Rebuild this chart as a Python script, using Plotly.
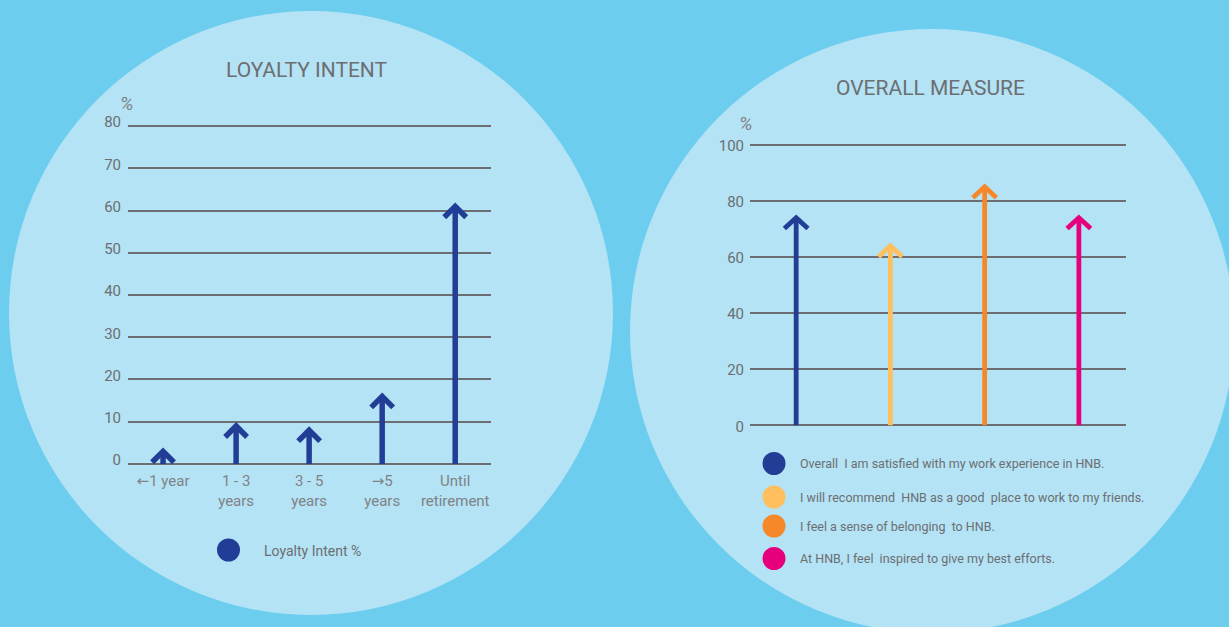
import plotly.graph_objects as go

W, H = 1229, 627

# ---------------- data ----------------
loyalty_title = "LOYALTY INTENT"
loyalty_categories = ["<span style='font-family:DejaVu Sans'>←</span>1 year", "1 - 3<br>years",
                      "3 - 5<br>years", "<span style='font-family:DejaVu Sans'>→</span>5<br>years",
                      "Until<br>retirement"]
loyalty_values = [3, 9, 8, 16, 61]
loyalty_ticks = [0, 10, 20, 30, 40, 50, 60, 70, 80]
loyalty_legend = "Loyalty Intent %"

measure_title = "OVERALL MEASURE"
measure_labels = [
    "Overall  I am satisfied with my work experience in HNB.",
    "I will recommend  HNB as a good  place to work to my friends.",
    "I feel a sense of belonging  to HNB.",
    "At HNB, I feel  inspired to give my best efforts.",
]
measure_values = [74, 64, 85, 74]
measure_ticks = [0, 20, 40, 60, 80, 100]

# ---------------- style ----------------
NAVY = "#223d96"
measure_colors = [NAVY, "#ffbf5f", "#f7882a", "#e6007e"]
BG = "#6dcdee"
CIRCLE = "#b3e3f5"
GRID = "#6d6e71"
TXT = "#6d6e71"
XTXT = "#808285"
FONT = "Roboto"


def px(x):
    return x / W


def py(y):
    return 1 - y / H


def arrow(x, v, hx, hy):
    return [x, x, None, x - hx, x, x + hx], [0, v, None, v - hy, v, v - hy]


fig = go.Figure()

for i, v in enumerate(loyalty_values):
    xs, ys = arrow(i, v, 0.15, 2.6)
    fig.add_trace(go.Scatter(x=xs, y=ys, mode="lines", line=dict(color=NAVY, width=5.5),
                             xaxis="x", yaxis="y", showlegend=False, hoverinfo="skip"))

for i, (v, c) in enumerate(zip(measure_values, measure_colors)):
    xs, ys = arrow(i, v, 0.125, 3.9)
    fig.add_trace(go.Scatter(x=xs, y=ys, mode="lines", line=dict(color=c, width=4.8),
                             xaxis="x2", yaxis="y2", showlegend=False, hoverinfo="skip"))

shapes = []
for cx, cy, r in [(311, 313, 302), (932, 331, 302)]:
    shapes.append(dict(type="circle", xref="paper", yref="paper", layer="below",
                       x0=px(cx - r), x1=px(cx + r), y0=py(cy + r), y1=py(cy - r),
                       fillcolor=CIRCLE, line=dict(width=0)))


def dot(cx, cy, r, color):
    return dict(type="circle", xref="paper", yref="paper",
                x0=px(cx - r), x1=px(cx + r), y0=py(cy + r), y1=py(cy - r),
                fillcolor=color, line=dict(width=0))


def note(text, x, y, size, color, xanchor="center", italic=False):
    return dict(text=text, x=px(x), y=py(y), xref="paper", yref="paper",
                xanchor=xanchor, yanchor="middle", showarrow=False,
                font=dict(family=FONT, size=size, color=color, style="italic" if italic else "normal"))


annotations = [
    note(loyalty_title, 306.5, 70, 21, TXT),
    note(measure_title, 930, 88, 21, TXT),
    note("%", 127, 103, 19, XTXT, italic=True),
    note("%", 746, 124, 19, XTXT, italic=True),
]

shapes.append(dot(228.5, 550, 11.5, NAVY))
annotations.append(note(loyalty_legend, 262, 551, 14, TXT, xanchor="left"))

legend_y = [463.5, 497, 526, 558.5]
for lab, c, ly in zip(measure_labels, measure_colors, legend_y):
    shapes.append(dot(774, ly, 11.5, c))
    annotations.append(note(lab, 798, ly, 12.5, TXT, xanchor="left"))

fig.update_layout(
    width=W, height=H, margin=dict(l=0, r=0, t=0, b=0, autoexpand=False),
    paper_bgcolor=BG, plot_bgcolor="rgba(0,0,0,0)",
    shapes=shapes, annotations=annotations, showlegend=False,
    xaxis=dict(domain=[px(128), px(491)], range=[-0.48, 4.49], showgrid=False, zeroline=False,
               showline=False, tickvals=list(range(len(loyalty_categories))),
               ticktext=loyalty_categories, ticks="", ticklabelstandoff=4, automargin=False,
               tickfont=dict(family=FONT, size=15, color=XTXT), anchor="y", fixedrange=True),
    yaxis=dict(domain=[py(466.1), py(123.9)], range=[-0.5, 80.5], showgrid=True, gridcolor=GRID,
               gridwidth=1.6, zeroline=False, showline=False, tickvals=loyalty_ticks, ticks="",
               ticklabelstandoff=6, ticklabelshift=-4, automargin=False,
               tickfont=dict(family=FONT, size=15, color=TXT), anchor="x", fixedrange=True),
    xaxis2=dict(domain=[px(750), px(1126)], range=[-0.49, 3.5], showgrid=False, zeroline=False,
                showline=False, showticklabels=False, anchor="y2", fixedrange=True, automargin=False),
    yaxis2=dict(domain=[py(428.1), py(141.9)], range=[-1, 101], showgrid=True, gridcolor=GRID,
                gridwidth=1.6, zeroline=False, showline=False, tickvals=measure_ticks, ticks="",
                ticklabelstandoff=5, ticklabelshift=1, automargin=False,
                tickfont=dict(family=FONT, size=15, color=TXT), anchor="x2", fixedrange=True),
)

post = ("document.documentElement.style.margin='0';document.body.style.margin='0';"
        "document.documentElement.style.overflow='hidden';document.body.style.overflow='hidden';"
        "document.body.style.background='" + BG + "';")

fig.write_html("out.html", post_script=post, config={"displayModeBar": False})
